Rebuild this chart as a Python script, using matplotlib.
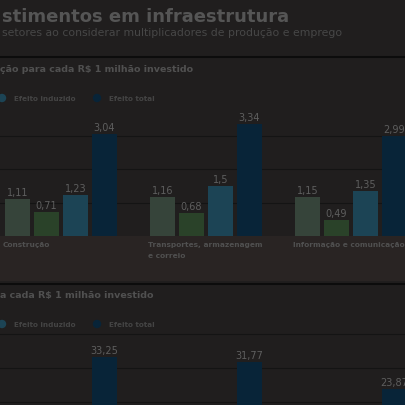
import matplotlib
matplotlib.use("Agg")
import matplotlib.pyplot as plt

categories = ["Construção", "Transportes, armazenagem\ne correio", "Informação e comunicação"]
series = ["Efeito direto", "Efeito indireto", "Efeito induzido", "Efeito total"]
prod_direto = [1.11, 1.16, 1.15]
prod_indireto = [0.71, 0.68, 0.49]
prod_induzido = [1.23, 1.5, 1.35]
prod_total = [3.04, 3.34, 2.99]
emp_direto = [18.1, 9.2, 6.0]
emp_indireto = [6.3, 5.1, 4.2]
emp_induzido = [8.8, 17.5, 13.6]
emp_total = [33.25, 31.77, 23.87]
labels_prod = ["1,11", "0,71", "1,23", "3,04", "1,16", "0,68", "1,5", "3,34", "1,15", "0,49", "1,35", "2,99"]
labels_emp = ["18,1", "6,3", "8,8", "33,25", "9,2", "5,1", "17,5", "31,77", "6,0", "4,2", "13,6", "23,87"]

colors = ["#36443a", "#2a4229", "#1c4455", "#082438"]
bg = "#201e1e"
txt = "#5e5e5e"
W = H = 406
fig = plt.figure(figsize=(4.06, 4.06), dpi=100, facecolor=bg)

def fy(px):
    return 1 - px / H

band = plt.Rectangle((0, fy(282)), 1, (282 - 237) / H, transform=fig.transFigure,
                     facecolor="#292423", zorder=-5)
fig.add_artist(band)

fig.text(0.005, fy(17), "stimentos em infraestrutura", fontsize=13, fontweight="bold",
         color="#555555", va="center")
fig.text(0.005, fy(33), "setores ao considerar multiplicadores de produção e emprego",
         fontsize=7.8, color="#474747", va="center")
for y in (58, 285):
    fig.add_artist(plt.Line2D([0, 1], [fy(y), fy(y)], color="#0c0c0c", lw=1.5, transform=fig.transFigure))
fig.text(0.0, fy(70), "ção para cada R$ 1 milhão investido", fontsize=6.8, fontweight="bold", color="#505050", va="center")
fig.text(0.0, fy(296), "a cada R$ 1 milhão investido", fontsize=6.8, fontweight="bold", color="#505050", va="center")

def legend(y):
    for xx, c, t in [(2, colors[2], "Efeito induzido"), (97, colors[3], "Efeito total")]:
        fig.add_artist(plt.Circle((xx / W, fy(y)), 3.5 / W, color=c, transform=fig.transFigure))
        fig.text((xx + 12) / W, fy(y), t, fontsize=5.2, color="#444444", va="center", fontweight="bold")
legend(99)
legend(325)

def panel(base_px, top_px, ymax, data, labels, grid, fs, cats=True):
    ax = fig.add_axes([0, fy(base_px), 1, (base_px - top_px) / H])
    ax.set_facecolor("none")
    ax.set_xlim(0, W)
    ax.set_ylim(0, ymax)
    pxu = (base_px - top_px) / ymax
    for g in grid:
        ax.axhline(g, color="#141414", lw=0.8, zorder=0)
    k = 0
    for gi in range(3):
        for si in range(4):
            x = 5 + 145 * gi + 29 * si
            v = data[si][gi]
            ax.bar(x, v, width=25, align="edge", color=colors[si], zorder=2)
            if base_px - v * pxu < H - 14:
                ax.text(x + 12.5, v + ymax * 0.015, labels[k], ha="center", va="bottom",
                        fontsize=fs, color=txt, zorder=3)
            k += 1
        if cats:
            ax.text(3 + 145 * gi, -ymax * 0.04, categories[gi], ha="left", va="top",
                    fontsize=5.3, color="#505050", fontweight="bold", linespacing=1.9, clip_on=False)
    ax.axis("off")
    return ax

panel(237, 100, (237 - 100) / 33.5, [prod_direto, prod_indireto, prod_induzido, prod_total],
      labels_prod, [1, 2, 3], 7)
panel(471, 330, (471 - 330) / 3.4, [emp_direto, emp_indireto, emp_induzido, emp_total],
      labels_emp, [10, 20, 30, 40], 7, cats=False)

fig.savefig("out.png", dpi=100, facecolor=bg)
